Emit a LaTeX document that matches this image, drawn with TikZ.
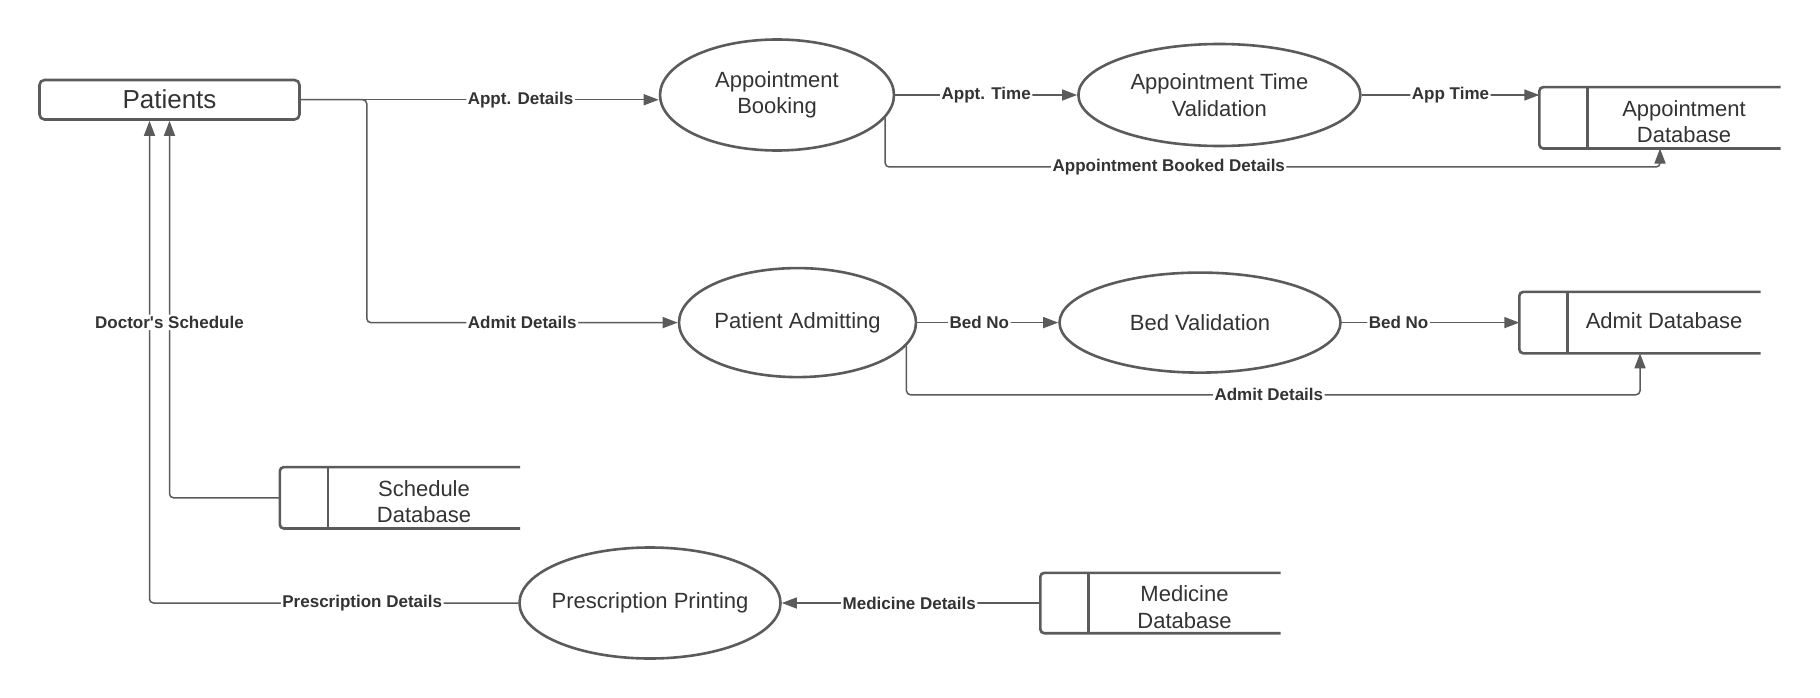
\documentclass[tikz,border=0pt]{standalone}
\usepackage{fontspec}
\setmainfont{Liberation Sans}
\usetikzlibrary{shapes.geometric}
\usetikzlibrary{arrows.meta, positioning}
\definecolor{dfdGray}{RGB}{91, 91, 91}
\definecolor{dfdText}{RGB}{51, 51, 51}
\newcommand{\shapefont}{\fontsize{22}{26.5}\selectfont}
\newcommand{\flowfont}{\bfseries\fontsize{17}{20}\selectfont}
\tikzset{
    outline/.style={draw=dfdGray, line width=2.6pt},
    entity/.style={rectangle, rounded corners=5pt, outline, inner sep=0pt, minimum width=260pt, minimum height=39.5pt, text=dfdText, font=\fontsize{26}{30}\selectfont},
    process/.style={ellipse, outline, inner sep=0pt, align=center, text=dfdText, font=\shapefont},
    store/.style={rectangle, inner sep=0pt, minimum width=241pt, minimum height=61pt},
    storetext/.style={align=center, inner sep=0pt, text=dfdText, font=\shapefont},
    flow/.style={draw=dfdGray, line width=1.5pt, rounded corners=4pt, -{Triangle[length=15pt, width=11pt]}},
    flowlabel/.style={fill=white, inner sep=1.5pt, text=dfdText, font=\flowfont}
}
% open-ended data store: top, left side, bottom and the small left cell
\newcommand{\storeoutline}[1]{%
    \draw[outline, rounded corners=4pt] (#1.north east) -- (#1.north west) -- (#1.south west) -- (#1.south east);
    \draw[outline] ([xshift=48pt]#1.north west) -- ([xshift=48pt]#1.south west);
}

\begin{document}
\begin{tikzpicture}[x=1pt, y=-1pt]
    \useasboundingbox (0,0) rectangle (1820,698);

    % External entity
    \node[entity] (patients) at (169.5,99.75) {\raisebox{2pt}{Patients}};

    % Processes
    \node[process, minimum width=234pt, minimum height=111pt] (ab) at (777,95) {Appointment\\Booking};
    \node[process, minimum width=282pt, minimum height=102pt] (atv) at (1219.4,95) {Appointment Time\\Validation};
    \node[process, inner xsep=-2pt, minimum width=237pt, minimum height=109pt] (pa) at (797.5,322.6) {Patient Admitting};
    \node[process, minimum width=281pt, minimum height=100pt] (bv) at (1200,322.6) {Bed Validation};
    \node[process, inner xsep=-7pt, minimum width=261pt, minimum height=111pt] (pp) at (650,603) {Prescription Printing};

    % Data stores
    \node[store] (apptdb) at (1660,117.8) {};
    \node[store] (admitdb) at (1640,322.6) {};
    \node[store, minimum width=240pt] (schedb) at (400,497.8) {};
    \node[store, minimum width=240pt, minimum height=60pt] (medb) at (1160.5,603) {};
    \storeoutline{apptdb}
    \storeoutline{admitdb}
    \storeoutline{schedb}
    \storeoutline{medb}
    \node[storetext] (apptdbtext) at ([xshift=24pt, yshift=-4pt]apptdb.center) {Appointment\\Database};
    \node[storetext] (admitdbtext) at ([xshift=24pt, yshift=2pt]admitdb.center) {Admit Database};
    \node[storetext] (schedbtext) at ([xshift=24pt, yshift=-4pt]schedb.center) {Schedule\\Database};
    \node[storetext] (medbtext) at ([xshift=24pt, yshift=-4pt]medb.center) {Medicine\\Database};

    % Appointment flows
    \coordinate (split) at ([xshift=66pt]patients.east);
    \draw[flow] (patients.east) -- node[flowlabel, pos=0.614] {Appt. Details} (patients.east -| ab.west);
    \draw[flow] (ab.east) -- node[flowlabel, pos=0.5] {Appt. Time} (atv.west);
    \draw[flow] (atv.east) -- node[flowlabel, pos=0.5] {App Time} (atv.east -| apptdb.west);
    \draw[flow] (ab.-12) -- ++(0,49) -| node[flowlabel, pos=0.183] {Appointment Booked Details} (apptdb.south);

    % Admission flows
    \draw[flow] (patients.east) -- (split) |- node[flowlabel, pos=0.75] {Admit Details} (pa.west);
    \draw[flow] (pa.east) -- node[flowlabel, pos=0.44] {Bed No} (bv.west);
    \draw[flow] (bv.east) -- node[flowlabel, pos=0.32] {Bed No} (admitdb.west);
    \draw[flow] (pa.-12) -- ++(0,49) -| node[flowlabel, pos=0.247] {Admit Details} (admitdb.south);

    % Flows back to the patients
    \draw[flow] (medb.west) -- node[flowlabel, pos=0.507] {Medicine Details} (pp.east);
    \draw[flow] (pp.west) -| node[flowlabel, pos=0.2115] {Prescription Details} ([xshift=-20pt]patients.south);
    \draw[flow] (schedb.west) -| node[flowlabel, pos=0.73, yshift=2pt] {Doctor\textquotesingle s Schedule} (patients.south);
\end{tikzpicture}
\end{document}
